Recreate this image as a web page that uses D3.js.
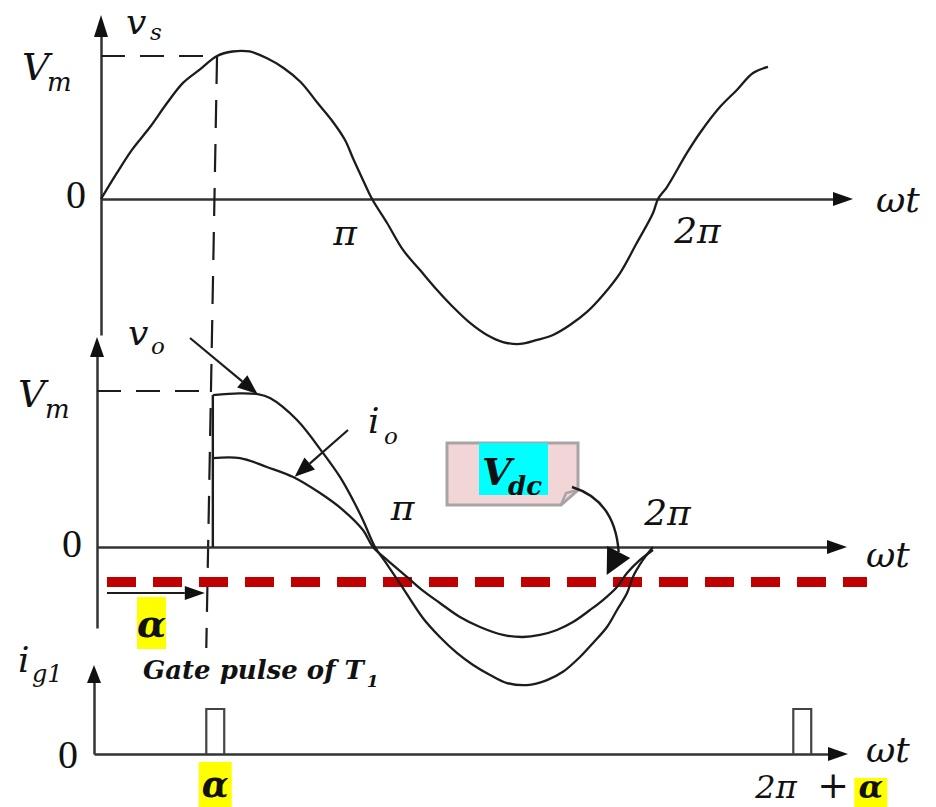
<!DOCTYPE html>
<html>
<head>
<meta charset="utf-8">
<script src="https://cdn.jsdelivr.net/npm/d3@7"></script>
<style>
  html, body { margin: 0; padding: 0; background: #fff; }
  svg { display: block; }
  text { font-family: "DejaVu Serif", "Liberation Serif", serif; fill: #111; }
</style>
</head>
<body>
<svg id="chart" width="936" height="807"></svg>
<script>
// ---- waveform data: [ωt in degrees, value in per-unit of Vm] ----
const vsWave = [
  [0, 0], [10, 0.17], [20, 0.33], [31.7, 0.483], [42.7, 0.644], [53, 0.779],
  [64, 0.87], [75, 0.96], [85, 0.99], [96, 0.99], [107, 0.946], [118, 0.879],
  [129, 0.785], [140, 0.644], [149, 0.53], [157.7, 0.396], [163, 0.27],
  [169.3, 0.128], [175.2, 0], [184.9, -0.161], [195.2, -0.342], [206.2, -0.477],
  [217.2, -0.611], [227.5, -0.725], [238.5, -0.832], [249.5, -0.913],
  [259.8, -0.96], [270.8, -0.973], [281.8, -0.946], [292.1, -0.913],
  [303.1, -0.846], [314.1, -0.758], [324.5, -0.644], [335.5, -0.497],
  [346, -0.30], [356.8, -0.094], [360, 0], [365.8, 0.08], [378.7, 0.309],
  [387.1, 0.443], [400, 0.617], [411, 0.732], [421.4, 0.846], [431.1, 0.886]
];

// output voltage v_o (after firing at α)
const voWave = [
  [75, 0.974], [92, 0.985], [104, 0.98], [112, 0.955], [129.5, 0.814],
  [146.3, 0.603], [157.3, 0.449], [165.8, 0.30], [172.2, 0.173], [180, 0],
  [187, -0.10], [196, -0.231], [211, -0.455], [222, -0.577], [233, -0.679],
  [243.5, -0.756], [254.5, -0.82], [265.5, -0.872], [278.4, -0.885],
  [291.4, -0.853], [301.7, -0.80], [312.7, -0.705], [321.2, -0.615],
  [330.2, -0.513], [336.7, -0.404], [343.2, -0.295], [347, -0.192],
  [353.5, -0.083], [360, 0]
];

// output current i_o
const ioWave = [
  [75, 0.57], [92.6, 0.57], [110, 0.513], [127, 0.449], [144.4, 0.346],
  [159.3, 0.237], [172.2, 0.109], [178.7, 0], [187.8, -0.083], [200.7, -0.192],
  [211, -0.28], [222, -0.359], [235, -0.449], [248, -0.513], [262.9, -0.564],
  [275.8, -0.577], [286.8, -0.564], [297.8, -0.532], [308.2, -0.481],
  [319.2, -0.404], [327.6, -0.34], [336.7, -0.256], [343.2, -0.167],
  [351.6, -0.083], [360, -0.019]
];

const alphaDeg = 75;            // firing angle
const vdcLevel = -0.224;        // average output voltage, per-unit
const gatePulses = [75, 435];   // gate pulse start angles of T1
const gateWidth = 11;           // pulse width, degrees
const piTicks = [180, 360];
const piLabels = ["π", "2π"];

// ---- layout ----
const svg = d3.select("#chart");
const INK = "#1c1c1c";
const AXIS = "#333";

const xTop = d3.scaleLinear().domain([0, 360]).range([101, 658]);
const yTop = d3.scaleLinear().domain([-1, 1]).range([348, 50]);
const xMid = d3.scaleLinear().domain([0, 360]).range([97, 653]);
const yMid = d3.scaleLinear().domain([-1, 1]).range([703, 391]);
const xBot = d3.scaleLinear().domain([0, 360]).range([84, 671]);
const yBot = d3.scaleLinear().domain([0, 1]).range([754, 709]);

// same mapping as `s`, stretched to run from pixel a to pixel b
const span = (s, a, b) => d3.scaleLinear().domain([s.invert(a), s.invert(b)]).range([a, b]);

function arrowHead(tip, angle, len = 20, half = 7, fill = "#111") {
  const [x, y] = tip, c = Math.cos(angle), s = Math.sin(angle);
  const bx = x - c * len, by = y - s * len;
  const pts = [[x, y], [bx - s * half, by + c * half], [bx + s * half, by - c * half]];
  svg.append("path").attr("d", d3.line()(pts) + "Z").attr("fill", fill);
  return [bx, by];
}

function label(x, y, str, size, opts = {}) {
  return svg.append("text")
    .attr("x", x).attr("y", y)
    .attr("font-size", size)
    .attr("font-style", opts.italic === false ? "normal" : "italic")
    .attr("font-weight", opts.bold ? "bold" : "normal")
    .attr("text-anchor", opts.anchor || "start")
    .style("font-family", opts.family || null)
    .text(str);
}

function styleAxis(g) {
  g.select(".domain").attr("stroke", AXIS).attr("stroke-width", 2.5);
  g.selectAll(".tick line").remove();
}

const waveLine = (xs, ys) => d3.line()
  .x(d => xs(d[0])).y(d => ys(d[1]))
  .curve(d3.curveCatmullRom.alpha(0.5));

// ================= top panel: v_s =================
const gTopX = svg.append("g")
  .attr("transform", `translate(0,${yTop(0)})`)
  .call(d3.axisBottom(span(xTop, xTop(0), 840)).tickValues(piTicks).tickSize(0).tickSizeOuter(0)
    .tickFormat((d, i) => piLabels[i]));
styleAxis(gTopX);
gTopX.selectAll(".tick text")
  .attr("font-size", 36).attr("font-style", "italic").attr("fill", "#111")
  .attr("font-family", null)
  .attr("y", (d, i) => [46, 44][i]).attr("dy", 0)
  .attr("dx", (d, i) => [-35, 39][i]);
arrowHead([853, yTop(0)], 0, 20, 7);

const gTopY = svg.append("g").attr("transform", `translate(${xTop(0)},0)`)
  .call(d3.axisLeft(span(yTop, 335, 30)).tickValues([]).tickSizeOuter(0));
styleAxis(gTopY);
arrowHead([xTop(0), 15], -Math.PI / 2, 22, 7);

svg.append("path").datum(vsWave)
  .attr("d", waveLine(xTop, yTop))
  .attr("fill", "none").attr("stroke", INK).attr("stroke-width", 2.3);

// level at the firing instant and the dashed guides
const vsAtAlpha = vsWave.find(d => d[0] === alphaDeg)[1];
svg.append("line")
  .attr("x1", xTop(0)).attr("x2", xTop(alphaDeg))
  .attr("y1", yTop(vsAtAlpha)).attr("y2", yTop(vsAtAlpha))
  .attr("stroke", INK).attr("stroke-width", 2).attr("stroke-dasharray", "24,15");
svg.append("line")
  .attr("x1", xTop(alphaDeg)).attr("y1", yTop(vsAtAlpha))
  .attr("x2", xBot(alphaDeg)).attr("y2", 648)
  .attr("stroke", INK).attr("stroke-width", 2.2).attr("stroke-dasharray", "28,16");

label(22, 80, "V", 38);
label(47, 91, "m", 26);
label(126, 34, "v", 36);
label(150, 40, "s", 23);
label(76, 208, "0", 40, { italic: false, anchor: "middle", family: "Liberation Serif" });
label(876, 212, "ωt", 36);

// ================= middle panel: v_o, i_o =================
const gMidX = svg.append("g")
  .attr("transform", `translate(0,${yMid(0)})`)
  .call(d3.axisTop(span(xMid, xMid(0), 834)).tickValues(piTicks).tickSize(0).tickSizeOuter(0)
    .tickFormat((d, i) => piLabels[i]));
styleAxis(gMidX);
gMidX.selectAll(".tick text")
  .attr("font-size", 36).attr("font-style", "italic").attr("fill", "#111")
  .attr("y", (d, i) => [-27, -22][i]).attr("dy", 0)
  .attr("dx", (d, i) => [27, 14][i]);
arrowHead([847, yMid(0)], 0, 20, 7);

const gMidY = svg.append("g").attr("transform", `translate(${xMid(0)},0)`)
  .call(d3.axisLeft(span(yMid, 628, 352)).tickValues([]).tickSizeOuter(0));
styleAxis(gMidY);
arrowHead([xMid(0), 337], -Math.PI / 2, 20, 7);

// Vm guide
svg.append("line")
  .attr("x1", xMid(0)).attr("x2", xMid(alphaDeg))
  .attr("y1", yMid(1)).attr("y2", yMid(1))
  .attr("stroke", INK).attr("stroke-width", 2).attr("stroke-dasharray", "24,15");

// average output voltage
svg.append("line")
  .attr("x1", 107).attr("x2", 867)
  .attr("y1", yMid(vdcLevel)).attr("y2", yMid(vdcLevel))
  .attr("stroke", "#c00000").attr("stroke-width", 10).attr("stroke-dasharray", "29,17");

// jump at firing instant
svg.append("line")
  .attr("x1", xMid(alphaDeg)).attr("x2", xMid(alphaDeg))
  .attr("y1", yMid(0)).attr("y2", yMid(voWave[0][1]))
  .attr("stroke", INK).attr("stroke-width", 2.4);

svg.append("path").datum(voWave)
  .attr("d", waveLine(xMid, yMid))
  .attr("fill", "none").attr("stroke", INK).attr("stroke-width", 2.3);
svg.append("path").datum(ioWave)
  .attr("d", waveLine(xMid, yMid))
  .attr("fill", "none").attr("stroke", INK).attr("stroke-width", 2.3);

// pointer arrows
function pointer(from, tip, len = 20, half = 8) {
  const ang = Math.atan2(tip[1] - from[1], tip[0] - from[0]);
  const base = [tip[0] - Math.cos(ang) * len, tip[1] - Math.sin(ang) * len];
  svg.append("line").attr("x1", from[0]).attr("y1", from[1])
    .attr("x2", base[0]).attr("y2", base[1])
    .attr("stroke", INK).attr("stroke-width", 2.2);
  arrowHead(tip, ang, len, half);
}
pointer([190, 338], [xMid(104), yMid(0.98)]);
pointer([348, 430], [xMid(128), yMid(0.45)]);

label(128, 345, "v", 36);
label(151, 354, "o", 23);
label(368, 433, "i", 36);
label(384, 444, "o", 23);
label(18, 407, "V", 38);
label(45, 418, "m", 26);
label(72, 557, "0", 40, { italic: false, anchor: "middle", family: "Liberation Serif" });
label(866, 567, "ωt", 36);

// α interval arrow
pointer([107, 593], [xMid(alphaDeg) - 8, 593], 20, 7);
svg.append("rect").attr("x", 137).attr("y", 597).attr("width", 29).attr("height", 52).attr("fill", "#ffff00");
label(151.5, 637, "α", 38, { bold: true, anchor: "middle" });

const gateText = label(143, 679, "Gate pulse of T", 26, { bold: true });
gateText.append("tspan").attr("font-size", 17).attr("dx", 3).attr("dy", 8).text("1");

// V_dc callout
const box = [[447, 443], [578, 443], [578, 490], [561, 505], [447, 505]];
svg.append("path").attr("d", d3.line()(box) + "Z")
  .attr("fill", "#f2d6d7").attr("stroke", "#a8a4a4").attr("stroke-width", 3);
svg.append("path").attr("d", d3.line()([[561, 505], [566, 493], [578, 490]]))
  .attr("fill", "none").attr("stroke", "#a8a4a4").attr("stroke-width", 2.5);
svg.append("rect").attr("x", 479).attr("y", 443).attr("width", 69).attr("height", 52).attr("fill", "#00ffff");
label(482, 485, "V", 38, { bold: true });
label(508, 495, "dc", 26, { bold: true });

const vdcTip = [xMid(330), yMid(-0.18)];
const vdcAng = Math.atan2(25, -13);
const vdcBase = [vdcTip[0] - Math.cos(vdcAng) * 26, vdcTip[1] - Math.sin(vdcAng) * 26];
svg.append("path")
  .attr("d", `M572,487 C598,495 616,514 ${vdcBase[0]},${vdcBase[1]}`)
  .attr("fill", "none").attr("stroke", INK).attr("stroke-width", 2.4);
arrowHead(vdcTip, vdcAng, 26, 13);

// ================= bottom panel: i_g1 =================
const gBotX = svg.append("g")
  .attr("transform", `translate(0,${yBot(0)})`)
  .call(d3.axisBottom(span(xBot, 94, 835)).tickValues([]).tickSizeOuter(0));
styleAxis(gBotX);
arrowHead([848, yBot(0)], 0, 20, 7);

const gBotY = svg.append("g").attr("transform", `translate(94,0)`)
  .call(d3.axisLeft(span(yBot, 754, 680)).tickValues([]).tickSizeOuter(0));
styleAxis(gBotY);
arrowHead([94, 665], -Math.PI / 2, 18, 7);

svg.selectAll(".gate").data(gatePulses).enter().append("path")
  .attr("class", "gate")
  .attr("d", d => `M${xBot(d)},${yBot(0)} V${yBot(1)} H${xBot(d + gateWidth)} V${yBot(0)}`)
  .attr("fill", "none").attr("stroke", "#444").attr("stroke-width", 2.2);

label(18, 672, "i", 36);
label(32, 682, "g1", 24);
label(68, 768, "0", 40, { italic: false, anchor: "middle", family: "Liberation Serif" });
label(866, 762, "ωt", 36);

// pulse labels
const p1 = xBot(gatePulses[0] + gateWidth / 2);
svg.append("rect").attr("x", p1 - 16.5).attr("y", 762).attr("width", 33).attr("height", 45).attr("fill", "#ffff00");
label(p1, 797, "α", 35, { bold: true, anchor: "middle" });

const p2 = xBot(gatePulses[1]);
label(p2 - 38, 798, "2π", 32);
label(p2 + 24, 798, "+", 38, { italic: false });
svg.append("rect").attr("x", p2 + 61).attr("y", 778).attr("width", 33).attr("height", 29).attr("fill", "#ffff00");
label(p2 + 77.5, 798, "α", 32, { bold: true, anchor: "middle" });
</script>
</body>
</html>
